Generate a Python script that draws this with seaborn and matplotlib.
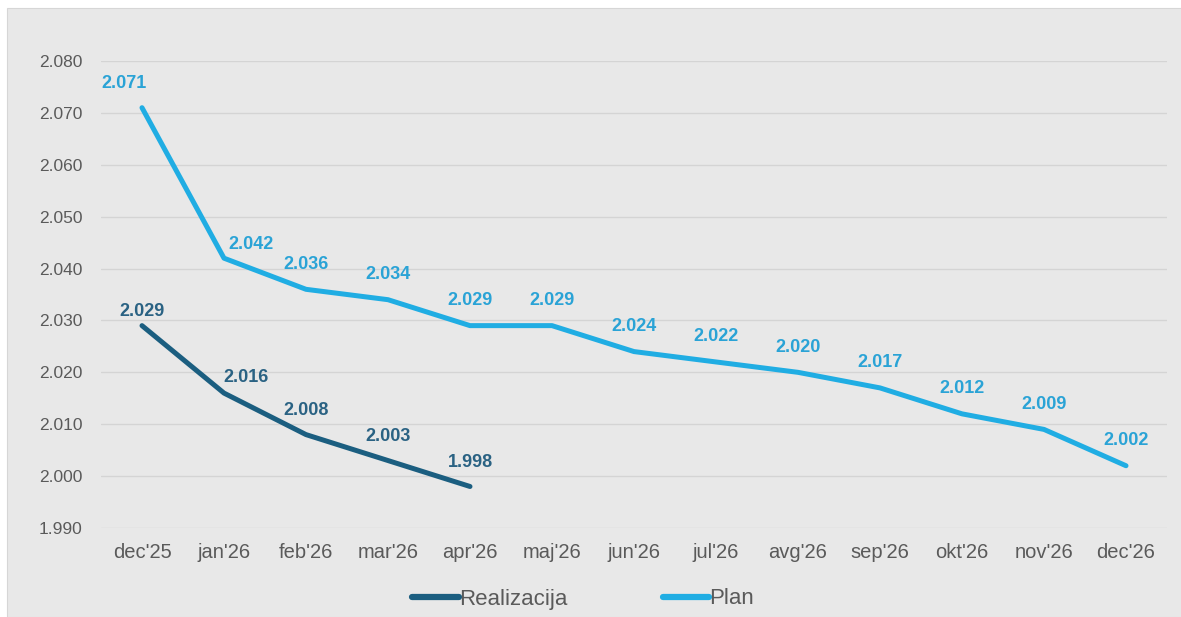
import matplotlib
matplotlib.use("Agg")
import matplotlib.pyplot as plt
from matplotlib.patches import Rectangle
import pandas as pd
import seaborn as sns

# podaci
months = ["dec'25", "jan'26", "feb'26", "mar'26", "apr'26", "maj'26", "jun'26",
          "jul'26", "avg'26", "sep'26", "okt'26", "nov'26", "dec'26"]
plan = [2.071, 2.042, 2.036, 2.034, 2.029, 2.029, 2.024,
        2.022, 2.020, 2.017, 2.012, 2.009, 2.002]
realizacija = [2.029, 2.016, 2.008, 2.003, 1.998]
y_ticks = [1.990, 2.000, 2.010, 2.020, 2.030, 2.040, 2.050, 2.060, 2.070, 2.080]

c_real = "#1b5e80"
c_plan = "#20ade3"
c_real_lbl = "#2a6283"
c_plan_lbl = "#2aa3d6"

df = pd.concat([
    pd.DataFrame({"mesec": months[:len(realizacija)], "vrednost": realizacija, "serija": "Realizacija"}),
    pd.DataFrame({"mesec": months, "vrednost": plan, "serija": "Plan"}),
])

sns.set_theme(style="white")
plt.rcParams["font.family"] = ["Liberation Sans", "DejaVu Sans"]

fig = plt.figure(figsize=(11.81, 6.17), dpi=100, facecolor="white")
bg = Rectangle((7 / 1181, 0), 1, 1 - 8 / 617, transform=fig.transFigure,
               facecolor="#e8e8e8", edgecolor="#d6d6d6", linewidth=0.8, zorder=-10)
fig.patches.append(bg)
ax = fig.add_axes([101 / 1181, 1 - 528 / 617, (1167 - 101) / 1181, (528 - 61) / 617])
ax.set_facecolor("none")

sns.lineplot(data=df, x="mesec", y="vrednost", hue="serija", sort=False,
             palette={"Realizacija": c_real, "Plan": c_plan},
             linewidth=3.6, ax=ax, legend=False)
for ln in ax.lines:
    ln.set_solid_capstyle("round")
    ln.set_solid_joinstyle("round")

ax.set_xlim(-0.5, len(months) - 0.5)
ax.set_ylim(1.990, 2.080)
ax.set_yticks(y_ticks)
ax.set_yticklabels([f"{v:.3f}" for v in y_ticks], fontsize=12.5, color="#5a5a5a")
ax.set_xticks(range(len(months)))
ax.set_xticklabels(months, fontsize=14.5, color="#5a5a5a")
ax.tick_params(axis="both", length=0)
ax.tick_params(axis="y", pad=13.5)
ax.tick_params(axis="x", pad=11)
ax.grid(axis="y", color="#d4d4d4", linewidth=1)
ax.set_axisbelow(True)
for s in ax.spines.values():
    s.set_visible(False)
ax.set_xlabel("")
ax.set_ylabel("")

# oznake vrednosti (pomeraji u pikselima)
plan_nudge = {0: (-18, 24), 1: (27, 14)}
real_nudge = {0: (0, 14), 1: (22, 16)}
for i, v in enumerate(plan):
    dx, dy = plan_nudge.get(i, (0, 25))
    ax.annotate(f"{v:.3f}", (i, v), xytext=(dx * 0.72, dy * 0.72), textcoords="offset points",
                ha="center", va="center", fontsize=13, fontweight="bold", color=c_plan_lbl)
for i, v in enumerate(realizacija):
    dx, dy = real_nudge.get(i, (0, 24))
    ax.annotate(f"{v:.3f}", (i, v), xytext=(dx * 0.72, dy * 0.72), textcoords="offset points",
                ha="center", va="center", fontsize=13, fontweight="bold", color=c_real_lbl)

handles = [plt.Line2D([], [], color=c_real, linewidth=4.5),
           plt.Line2D([], [], color=c_plan, linewidth=4.5)]
leg = fig.legend(handles, ["Realizacija", "Plan"], loc="center", bbox_to_anchor=(583 / 1181, 1 - 599 / 617),
                 ncol=2, frameon=False, handlelength=2.1, handletextpad=0.0, columnspacing=4.3,
                 prop={"family": ["Liberation Sans", "DejaVu Sans"], "size": 16})
for t in leg.get_texts():
    t.set_color("#5a5a5a")

fig.savefig("out.png", dpi=100, facecolor=fig.get_facecolor())
